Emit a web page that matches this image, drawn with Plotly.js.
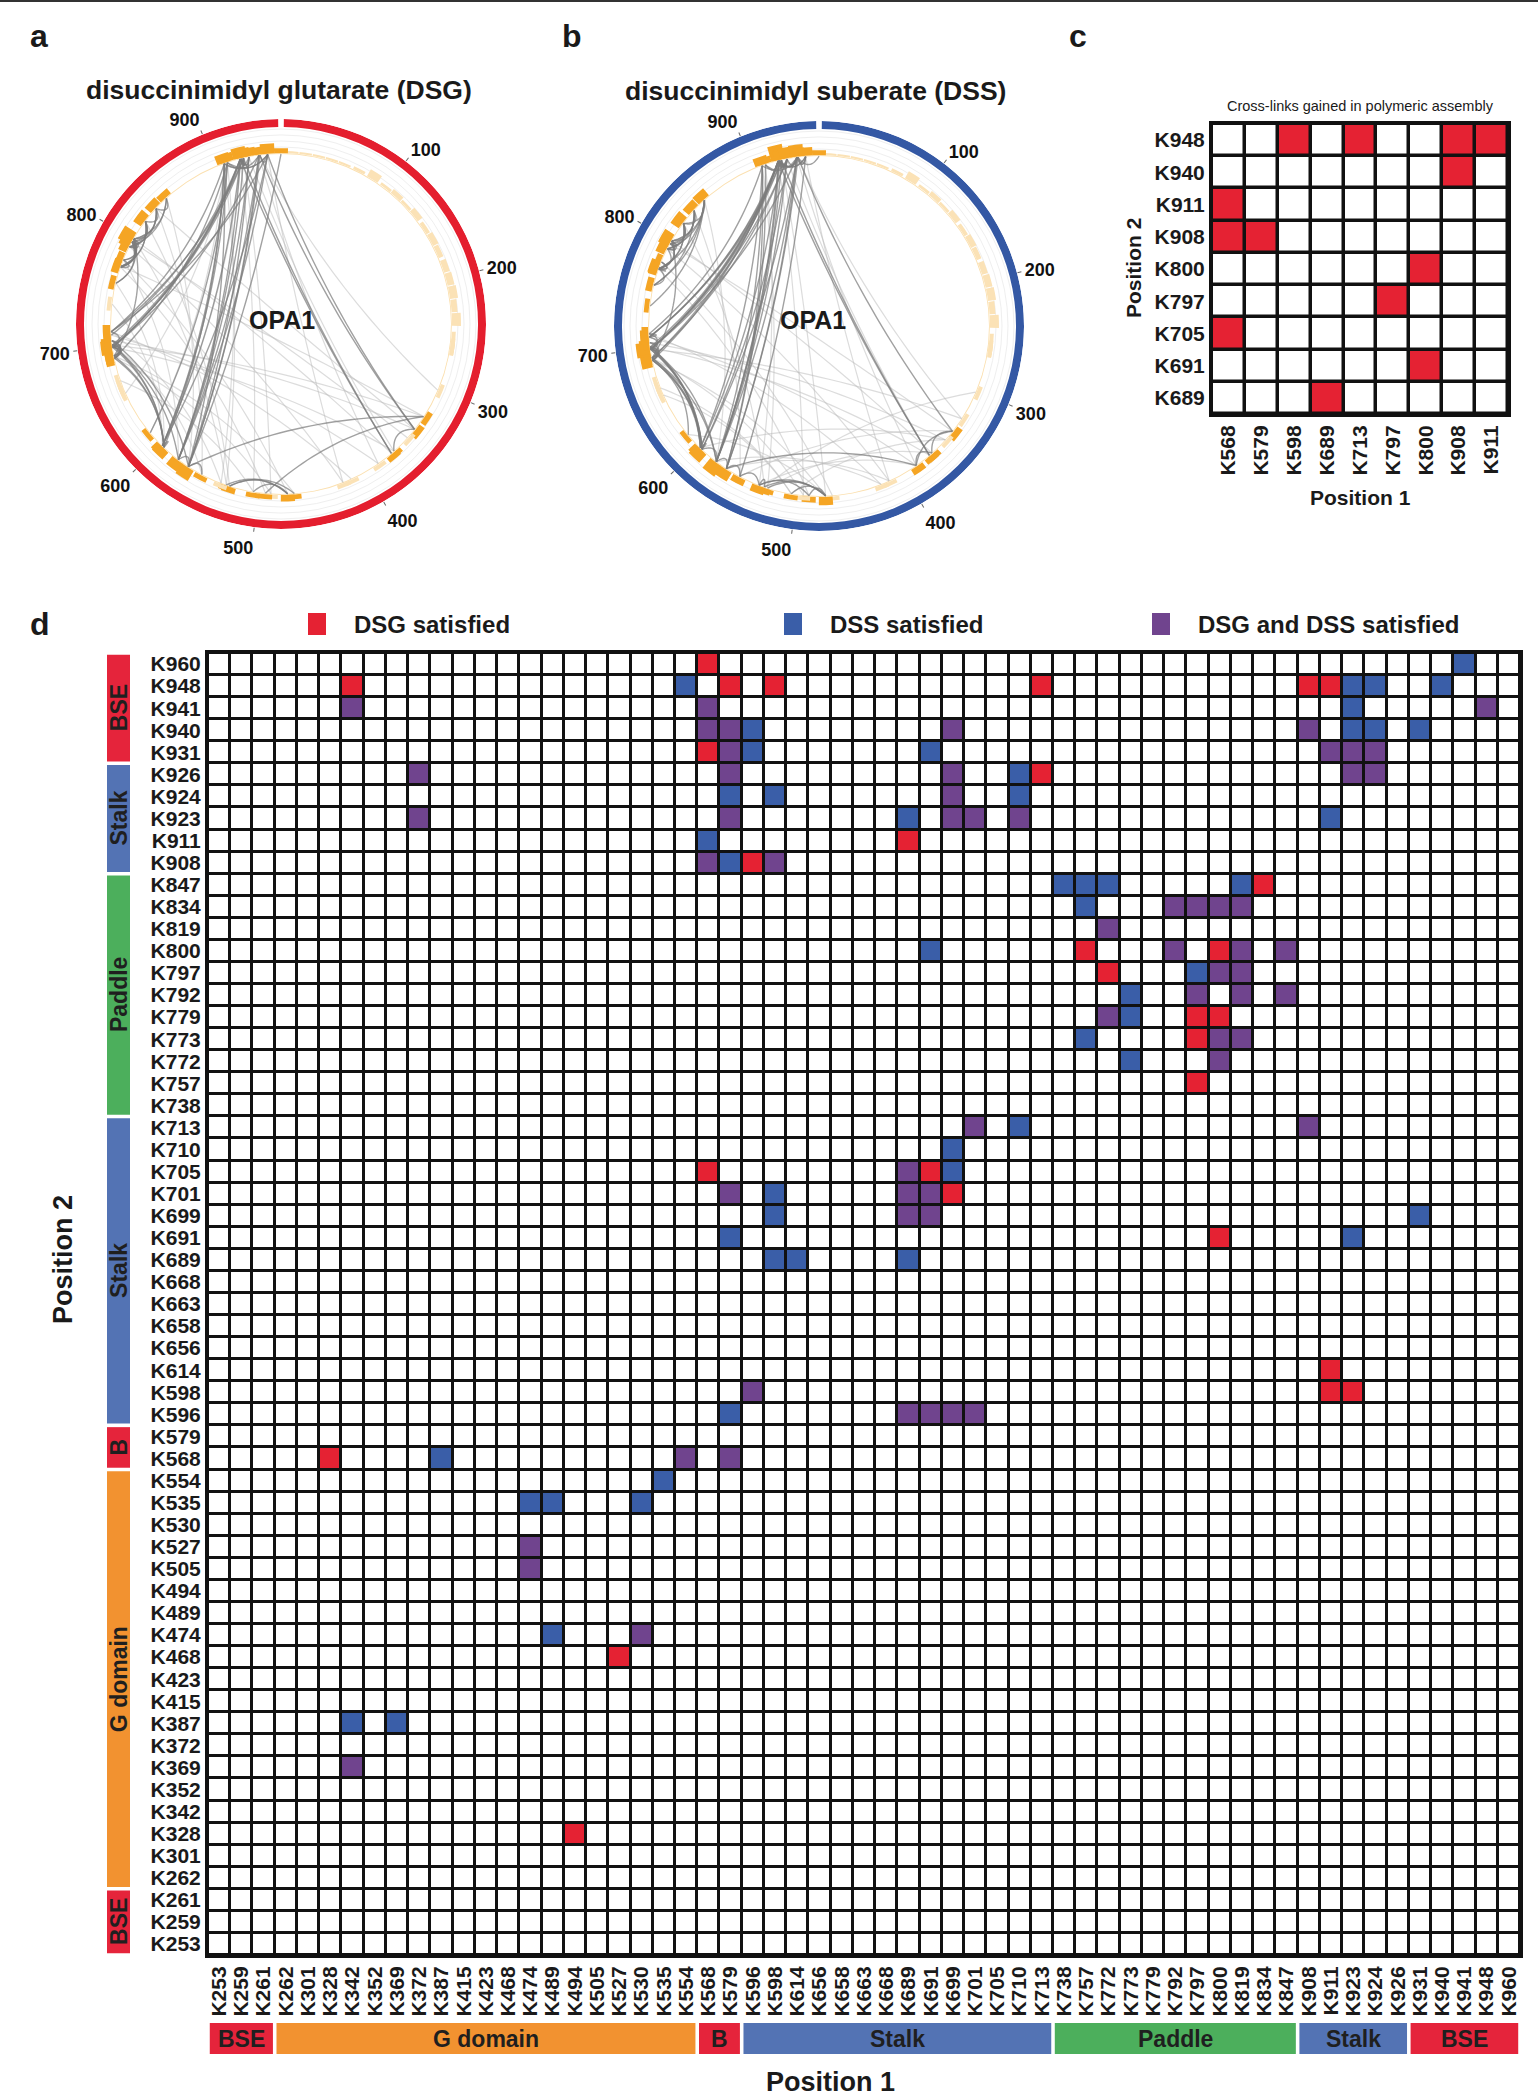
<!DOCTYPE html>
<html>
<head>
<meta charset="utf-8">
<script src="https://cdn.plot.ly/plotly-3.0.1.min.js"></script>
<style>
  body { margin: 0; background: #fff; }
  #chart { width: 1538px; height: 2100px; }
</style>
</head>
<body>
<div id="chart"></div>
<script>
// page size and px -> paper helpers
const W = 1538, H = 2100;
const px = v => v / W;
const py = v => 1 - v / H;
const FONT = 'Liberation Sans, Arial, Helvetica, sans-serif';

//--- DATA ---------------------------------------------------------------------
// lysines on both axes of panel d (bottom->top on y, left->right on x)
const lysines = ['K253','K259','K261','K262','K301','K328','K342','K352','K369','K372',
                 'K387','K415','K423','K468','K474','K489','K494','K505','K527','K530',
                 'K535','K554','K568','K579','K596','K598','K614','K656','K658','K663',
                 'K668','K689','K691','K699','K701','K705','K710','K713','K738','K757',
                 'K772','K773','K779','K792','K797','K800','K819','K834','K847','K908',
                 'K911','K923','K924','K926','K931','K940','K941','K948','K960'];

// domain blocks along the sequence
const domainNames  = ['BSE', 'G domain', 'B', 'Stalk', 'Paddle', 'Stalk', 'BSE'];
const domainFirst  = ['K253', 'K262', 'K568', 'K596', 'K738', 'K908', 'K931'];
const domainLast   = ['K261', 'K554', 'K579', 'K713', 'K847', 'K926', 'K960'];
const domainColors = ['#e5243b', '#f29230', '#e5243b', '#5373b4', '#4caf5c', '#5373b4', '#e5243b'];

// cross-links as [position 1, position 2]
const dsgSatisfied = [
    ['K568','K960'],
    ['K342','K948'],['K579','K948'],['K598','K948'],['K713','K948'],['K908','K948'],['K911','K948'],
    ['K568','K931'],['K713','K926'],['K689','K911'],['K596','K908'],['K834','K847'],
    ['K757','K800'],['K800','K800'],['K772','K797'],['K797','K779'],['K800','K779'],
    ['K797','K773'],['K797','K757'],['K568','K705'],['K691','K705'],['K699','K701'],
    ['K800','K691'],['K911','K614'],['K911','K598'],['K923','K598'],['K328','K568'],
    ['K527','K468'],['K494','K328']
];
const dssSatisfied = [
    ['K941','K960'],
    ['K554','K948'],['K923','K948'],['K924','K948'],['K940','K948'],
    ['K923','K941'],
    ['K596','K940'],['K923','K940'],['K924','K940'],['K931','K940'],
    ['K596','K931'],['K691','K931'],['K710','K926'],
    ['K579','K924'],['K598','K924'],['K710','K924'],
    ['K689','K923'],['K911','K923'],['K568','K911'],['K579','K908'],
    ['K738','K847'],['K757','K847'],['K772','K847'],['K819','K847'],
    ['K757','K834'],['K691','K800'],['K797','K797'],['K773','K792'],['K773','K779'],
    ['K757','K773'],['K773','K772'],['K710','K713'],['K699','K710'],['K699','K705'],
    ['K598','K701'],['K598','K699'],['K931','K699'],['K579','K691'],['K923','K691'],
    ['K598','K689'],['K614','K689'],['K689','K689'],['K579','K596'],['K387','K568'],
    ['K535','K554'],['K474','K535'],['K489','K535'],['K530','K535'],['K489','K474'],
    ['K342','K387'],['K369','K387']
];
const bothSatisfied = [
    ['K342','K941'],['K568','K941'],['K948','K941'],
    ['K568','K940'],['K579','K940'],['K699','K940'],['K908','K940'],
    ['K579','K931'],['K911','K931'],['K923','K931'],['K924','K931'],
    ['K372','K926'],['K579','K926'],['K699','K926'],['K923','K926'],['K924','K926'],
    ['K699','K924'],
    ['K372','K923'],['K579','K923'],['K699','K923'],['K701','K923'],['K710','K923'],
    ['K568','K908'],['K598','K908'],
    ['K792','K834'],['K797','K834'],['K800','K834'],['K819','K834'],
    ['K772','K819'],['K792','K800'],['K819','K800'],['K847','K800'],
    ['K800','K797'],['K819','K797'],['K797','K792'],['K819','K792'],['K847','K792'],
    ['K772','K779'],['K800','K773'],['K819','K773'],['K800','K772'],
    ['K701','K713'],['K908','K713'],['K689','K705'],
    ['K579','K701'],['K689','K701'],['K691','K701'],['K689','K699'],['K691','K699'],
    ['K596','K598'],['K689','K596'],['K691','K596'],['K699','K596'],['K701','K596'],
    ['K554','K568'],['K579','K568'],['K474','K527'],['K474','K505'],['K530','K474'],
    ['K342','K369']
];

// panel c
const cColumns = ['K568','K579','K598','K689','K713','K797','K800','K908','K911'];
const cRows    = ['K948','K940','K911','K908','K800','K797','K705','K691','K689'];
const cGained  = [['K598','K948'],['K713','K948'],['K908','K948'],['K911','K948'],
                  ['K908','K940'],['K568','K911'],['K568','K908'],['K579','K908'],
                  ['K800','K800'],['K797','K797'],['K568','K705'],['K800','K691'],
                  ['K689','K689']];

// circle plots (a, b)
const proteinLength = 960;
const circleTicks   = [100, 200, 300, 400, 500, 600, 700, 800, 900];
const nTermLysines  = [10, 22, 34, 46, 58, 72, 86, 100, 112, 124, 136, 150, 162, 174, 188, 200, 212, 224, 236];
const nTermHeights  = [2, 2, 2, 2, 2, 3, 8, 3, 5, 3, 6, 4, 6, 5, 6, 7, 8, 6, 9];
// links that are not satisfied (light grey chords), residue numbers
const dsgOtherLinks = [[701,328],[705,342],[699,369],[710,387],[713,415],[691,468],[689,489],[668,505],
                       [797,352],[800,372],[792,423],[779,474],[772,494],[819,527],[834,554],[847,568],
                       [908,530],[911,535],[923,505],[926,489],[931,369],[940,387],[941,301],[948,423],
                       [924,598],[908,614],[911,656],[779,579],[757,596],[738,598],[713,535],[834,342],
                       [773,328],[800,530],[701,554]];
const dssOtherLinks = [[699,328],[705,352],[701,372],[710,387],[713,423],[689,474],[691,494],[663,505],
                       [797,342],[800,369],[792,415],[779,468],[772,489],[819,530],[834,554],[847,579],
                       [908,527],[911,535],[923,494],[926,474],[931,372],[940,387],[941,328],[948,415],
                       [505,352],[527,369],[530,301],[554,342],[535,387],[568,415],[579,423],[598,352],
                       [614,474],[656,505]];

const RED = '#e52233', BLUE = '#3a5ea8', PURPLE = '#70448e';

//--- CIRCLE HELPERS -----------------------------------------------------------
const resNum = k => parseInt(k.slice(1), 10);
const deg = res => res / proteinLength * 360;

// chords as quadratic curves between two residues, joined with gaps
function chordTrace(pairs, subplot, color, width) {
    const rEnd = 170, r = [], th = [];
    pairs.forEach(([a, b]) => {
        if (a === b) return;
        const t1 = deg(a) * Math.PI / 180, t2 = deg(b) * Math.PI / 180;
        let d = Math.abs(deg(a) - deg(b));
        if (d > 180) d = 360 - d;
        const x1 = rEnd * Math.cos(t1), y1 = rEnd * Math.sin(t1);
        const x2 = rEnd * Math.cos(t2), y2 = rEnd * Math.sin(t2);
        // control point: chord midpoint pulled towards the centre (less for short links)
        const pull = 0.92 - 0.32 * d / 180;
        const cx = (x1 + x2) / 2 * pull, cy = (y1 + y2) / 2 * pull;
        for (let i = 0; i <= 30; i++) {
            const s = i / 30;
            const x = (1 - s) * (1 - s) * x1 + 2 * s * (1 - s) * cx + s * s * x2;
            const y = (1 - s) * (1 - s) * y1 + 2 * s * (1 - s) * cy + s * s * y2;
            r.push(Math.hypot(x, y));
            th.push(Math.atan2(y, x) * 180 / Math.PI);
        }
        r.push(null); th.push(null);
    });
    return { type: 'scatterpolar', subplot, mode: 'lines', r, theta: th,
             line: { color, width }, hoverinfo: 'skip', showlegend: false };
}

function linkCounts(pairs) {
    const c = {};
    pairs.forEach(([a, b]) => { c[a] = (c[a] || 0) + 1; if (b !== a) c[b] = (c[b] || 0) + 1; });
    return c;
}

function circleTraces(satisfied, others, ringColor, subplot) {
    const counts = linkCounts(satisfied);
    const numPairs = satisfied.map(([a, b]) => [resNum(a), resNum(b)]);
    return [
        // thin base track
        { type: 'barpolar', subplot, theta: [180], r: [0.9], base: [170], width: [360],
          marker: { color: '#fbe0b0', line: { width: 0 } }, hoverinfo: 'skip', showlegend: false },
        // pale N-terminal lysines
        { type: 'barpolar', subplot, theta: nTermLysines.map(deg), r: nTermHeights, base: 171, width: 4.2,
          marker: { color: '#fbe2b6', line: { width: 0 } }, hoverinfo: 'skip', showlegend: false },
        // lysines from the map
        { type: 'barpolar', subplot, theta: lysines.map(k => deg(resNum(k))),
          r: lysines.map(k => counts[k] ? 4 + 0.85 * counts[k] : 4), base: 171, width: 4.6,
          marker: { color: lysines.map(k => counts[k] ? '#f5a524' : '#fbe2b6'), line: { width: 0 } },
          hoverinfo: 'skip', showlegend: false },
        // outer ring
        { type: 'barpolar', subplot, theta: [180], r: [8], base: [197], width: [358.4],
          marker: { color: ringColor, line: { width: 0 } }, hoverinfo: 'skip', showlegend: false },
        chordTrace(others, subplot, 'rgba(185,185,185,0.5)', 1.2),
        chordTrace(numPairs, subplot, 'rgba(125,125,125,0.72)', 1.4)
    ];
}

function polarLayout(cx, cy) {
    return {
        domain: { x: [px(cx - 205), px(cx + 205)], y: [py(cy + 205), py(cy - 205)] },
        bgcolor: 'rgba(0,0,0,0)',
        barmode: 'overlay',
        radialaxis: { range: [0, 205], showline: false, showticklabels: false, ticks: '',
                      tickvals: [177, 183, 189, 195], gridcolor: '#efefef', layer: 'below traces' },
        angularaxis: { rotation: 90, direction: 'clockwise', thetaunit: 'degrees',
                       tickvals: circleTicks.map(deg), ticktext: circleTicks.map(String),
                       showgrid: false, showline: false, ticks: 'outside', ticklen: 4, tickcolor: '#666',
                       layer: 'below traces',
                       tickfont: { family: FONT, size: 18, color: '#111', weight: 'bold' } }
    };
}

//--- HEATMAPS -----------------------------------------------------------------
const zD = lysines.map(() => lysines.map(() => 0));
function markPairs(z, xs, ys, pairs, v) {
    pairs.forEach(([p1, p2]) => { z[ys.indexOf(p2)][xs.indexOf(p1)] = v; });
}
markPairs(zD, lysines, lysines, dsgSatisfied, 1);
markPairs(zD, lysines, lysines, dssSatisfied, 2);
markPairs(zD, lysines, lysines, bothSatisfied, 3);

const heatD = {
    type: 'heatmap', x: lysines, y: lysines, z: zD, xaxis: 'x', yaxis: 'y',
    zmin: 0, zmax: 3, xgap: 3, ygap: 3, showscale: false, hoverinfo: 'skip',
    colorscale: [[0, '#ffffff'], [0.1667, '#ffffff'], [0.1667, RED], [0.5, RED],
                 [0.5, BLUE], [0.8333, BLUE], [0.8333, PURPLE], [1, PURPLE]]
};

const zC = cRows.map(() => cColumns.map(() => 0));
markPairs(zC, cColumns, cRows, cGained, 1);
const heatC = {
    type: 'heatmap', x: cColumns, y: cRows, z: zC, xaxis: 'x2', yaxis: 'y2',
    zmin: 0, zmax: 1, xgap: 3.5, ygap: 3.5, showscale: false, hoverinfo: 'skip',
    colorscale: [[0, '#ffffff'], [0.5, '#ffffff'], [0.5, RED], [1, RED]]
};

//--- LAYOUT -------------------------------------------------------------------
const boldTick = size => ({ family: FONT, size, color: '#1a1a1a', weight: 'bold' });
const catAxis = (domain, cats, extra) => Object.assign({
    domain, type: 'category', categoryorder: 'array', categoryarray: cats,
    tickmode: 'array', tickvals: cats, ticktext: cats,
    range: [-0.5, cats.length - 0.5], showgrid: false, zeroline: false, ticks: '',
    showline: true, mirror: true, linecolor: '#111', linewidth: 3, automargin: false, fixedrange: true
}, extra);

function label(text, x, y, size, extra) {
    return Object.assign({ text, x: px(x), y: py(y), xref: 'paper', yref: 'paper', showarrow: false,
                           xanchor: 'center', yanchor: 'middle',
                           font: { family: FONT, size, color: '#1a1a1a', weight: 'bold' } }, extra || {});
}

const shapes = [
    { type: 'line', xref: 'paper', yref: 'paper', x0: 0, x1: 1, y0: py(1), y1: py(1),
      line: { color: '#333', width: 2 } }
];
const annotations = [
    label('a', 39, 36, 32), label('b', 572, 36, 32), label('c', 1078, 36, 32), label('d', 40, 624, 32),
    label('disuccinimidyl glutarate (DSG)', 279, 90, 26.5),
    label('disuccinimidyl suberate (DSS)', 815, 91, 26.5),
    label('OPA1', 282, 320, 25), label('OPA1', 813, 320, 25),
    label('Cross-links gained in polymeric assembly', 1360, 106, 14.5,
          { font: { family: FONT, size: 14.5, color: '#1a1a1a' } }),
    label('Position 1', 1360, 497, 21),
    label('Position 2', 1133, 268, 21, { textangle: -90 }),
    label('Position 1', 830, 2082, 27),
    label('Position 2', 63, 1260, 27, { textangle: -90 })
];

// legend of panel d
const legendItems = [['DSG satisfied', RED, 308], ['DSS satisfied', BLUE, 784], ['DSG and DSS satisfied', PURPLE, 1152]];
legendItems.forEach(([txt, col, x]) => {
    shapes.push({ type: 'rect', xref: 'paper', yref: 'paper', x0: px(x), x1: px(x + 18),
                  y0: py(635), y1: py(613), fillcolor: col, line: { width: 0 } });
    annotations.push(label(txt, x + 44, 624, 24, { xanchor: 'left' }));
});

// domain bars of panel d
const domainFont = { family: FONT, size: 23, color: '#1f1f1f', weight: 'bold' };
domainNames.forEach((name, i) => {
    const i0 = lysines.indexOf(domainFirst[i]), i1 = lysines.indexOf(domainLast[i]);
    shapes.push({ type: 'rect', xref: 'x', yref: 'paper', x0: i0 - 0.42, x1: i1 + 0.42,
                  y0: py(2054), y1: py(2023), fillcolor: domainColors[i], line: { width: 0 } });
    shapes.push({ type: 'rect', xref: 'paper', yref: 'y', x0: px(107), x1: px(130),
                  y0: i0 - 0.42, y1: i1 + 0.42, fillcolor: domainColors[i], line: { width: 0 } });
    annotations.push({ text: name, x: (i0 + i1) / 2, y: py(2039), xref: 'x', yref: 'paper',
                       xanchor: 'center', yanchor: 'middle', showarrow: false, font: domainFont });
    annotations.push({ text: name, x: px(119), y: (i0 + i1) / 2, xref: 'paper', yref: 'y',
                       xanchor: 'center', yanchor: 'middle', showarrow: false, textangle: -90,
                       font: domainFont });
});

const layout = {
    width: W, height: H, autosize: false,
    margin: { l: 0, r: 0, t: 0, b: 0 },
    paper_bgcolor: '#ffffff', plot_bgcolor: '#111111',
    showlegend: false,
    font: { family: FONT },
    polar: polarLayout(281, 324),
    polar2: polarLayout(819, 326),
    xaxis: catAxis([px(208), px(1520)], lysines, { tickangle: -90, tickfont: boldTick(21), anchor: 'y' }),
    yaxis: catAxis([py(1955), py(653)], lysines, { tickfont: boldTick(21), anchor: 'x' }),
    xaxis2: catAxis([px(1212), px(1508)], cColumns, { tickangle: -90, tickfont: boldTick(21), anchor: 'y2' }),
    yaxis2: catAxis([py(414), py(124)], cRows, { tickfont: boldTick(21), anchor: 'x2', autorange: false,
                                                  range: [cRows.length - 0.5, -0.5] }),
    shapes, annotations
};

const traces = [
    ...circleTraces(dsgSatisfied.concat(bothSatisfied), dsgOtherLinks, '#e41e2e', 'polar'),
    ...circleTraces(dssSatisfied.concat(bothSatisfied), dssOtherLinks, '#3458a4', 'polar2'),
    heatC, heatD
];

Plotly.newPlot('chart', traces, layout, { staticPlot: true, displayModeBar: false });
</script>
</body>
</html>
